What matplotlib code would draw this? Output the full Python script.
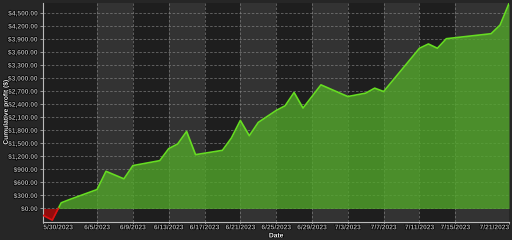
import numpy as np
import pandas as pd
import matplotlib
matplotlib.use("Agg")
import matplotlib.pyplot as plt
import matplotlib.dates as mdates
import matplotlib.patheffects as pe


dates = [
    "2023-05-30", "2023-05-31", "2023-06-01", "2023-06-02", "2023-06-05",
    "2023-06-06", "2023-06-08", "2023-06-09", "2023-06-12", "2023-06-13",
    "2023-06-14", "2023-06-15", "2023-06-16", "2023-06-19", "2023-06-20",
    "2023-06-21", "2023-06-22", "2023-06-23", "2023-06-25", "2023-06-26",
    "2023-06-27", "2023-06-28", "2023-06-30", "2023-07-03", "2023-07-05",
    "2023-07-06", "2023-07-07", "2023-07-11", "2023-07-12", "2023-07-13",
    "2023-07-14", "2023-07-19", "2023-07-20", "2023-07-21",
]
profit = [
    -160, -268, 131, 211, 436,
    856, 682, 987, 1101, 1377,
    1485, 1774, 1239, 1338, 1622,
    2027, 1675, 1981, 2256, 2364,
    2670, 2311, 2846, 2577, 2655,
    2770, 2692, 3688, 3787, 3688,
    3908, 4023, 4223, 4720,
]
tick_dates = [
    "2023-05-30", "2023-06-05", "2023-06-09", "2023-06-13", "2023-06-17",
    "2023-06-21", "2023-06-25", "2023-06-29", "2023-07-03", "2023-07-07",
    "2023-07-11", "2023-07-15", "2023-07-21",
]
y_ticks = list(range(0, 4501, 300))

FIG_BG = "#262626"
DARK_BAND = "#1e1e1e"
LIGHT_BAND = "#333333"
TEXT = "#f2f2f2"
FONT = ["Liberation Sans", "DejaVu Sans"]
FS = 4.8


def split_at_zero(x, y):
    # insert the zero crossings so both colours meet cleanly
    xs, ys = [x[0]], [y[0]]
    for i in range(1, len(x)):
        if (y[i - 1] < 0) != (y[i] < 0):
            t = y[i - 1] / (y[i - 1] - y[i])
            xs.append(x[i - 1] + t * (x[i] - x[i - 1]))
            ys.append(0.0)
        xs.append(x[i])
        ys.append(y[i])
    return np.array(xs), np.array(ys)


def main():
    x = mdates.date2num(pd.to_datetime(dates))
    y = np.array(profit, dtype=float)
    ticks = mdates.date2num(pd.to_datetime(tick_dates))
    xs, ys = split_at_zero(x, y)

    fig = plt.figure(figsize=(5.12, 2.4), dpi=100, facecolor=FIG_BG)
    ax = fig.add_axes([0.0846, 0.077, 0.9096, 0.9105])
    ax.set_facecolor(DARK_BAND)

    for i in range(len(ticks) - 1):
        color = LIGHT_BAND if i % 2 else DARK_BAND
        ax.axvspan(ticks[i], ticks[i + 1], color=color, lw=0, zorder=0)

    ax.grid(True, color="#8a8a8a", ls=(0, (3, 2)), lw=0.6, alpha=0.7, zorder=1)

    ax.fill_between(xs, ys, 0, where=ys >= 0, color="#52a82a", alpha=0.78,
                    lw=0, zorder=2)
    ax.fill_between(xs, ys, 0, where=ys <= 0, color="#9a0c0c", alpha=0.95,
                    lw=0, zorder=2)

    pos = np.where(ys >= 0, ys, np.nan)
    neg = np.where(ys <= 0, ys, np.nan)
    ax.plot(xs, pos, color="#66dd22", lw=1.2, zorder=3)
    ax.plot(xs, neg, color="#dd1111", lw=1.2, zorder=3)

    ax.set_xlim(x[0], x[-1])
    ax.set_ylim(-300, 4730)

    effects = [pe.withStroke(linewidth=1.0, foreground="#000000")]

    ax.set_yticks(y_ticks)
    ax.set_yticklabels([f"${v:,.2f}" for v in y_ticks])
    ax.set_xticks(ticks)
    ax.set_xticklabels([d.strftime("%-m/%-d/%Y") for d in pd.to_datetime(tick_dates)])

    for lab in ax.get_xticklabels() + ax.get_yticklabels():
        lab.set_fontsize(FS)
        lab.set_family(FONT)
        lab.set_fontweight("bold")
        lab.set_color(TEXT)
        lab.set_path_effects(effects)
    ax.get_xticklabels()[0].set_ha("left")
    ax.get_xticklabels()[-1].set_ha("right")

    ax.tick_params(axis="both", colors="#aaaaaa", length=2, width=0.6, pad=2)
    ax.tick_params(axis="x", length=1.5, pad=0.5)

    for side in ["top", "right"]:
        ax.spines[side].set_visible(False)
    for side in ["left", "bottom"]:
        ax.spines[side].set_color("#bbbbbb")
        ax.spines[side].set_linewidth(0.8)

    ax.set_xlabel("Date", fontsize=FS, fontweight="bold", color=TEXT,
                  family=FONT, path_effects=effects)
    ax.set_ylabel("Cumulative profit ($)", fontsize=FS, fontweight="bold",
                  color=TEXT, family=FONT, path_effects=effects)
    ax.xaxis.set_label_coords(0.5, -0.05)
    ax.yaxis.set_label_coords(-0.072, 0.5)

    fig.savefig("out.png", dpi=100, facecolor=FIG_BG)


if __name__ == "__main__":
    main()
